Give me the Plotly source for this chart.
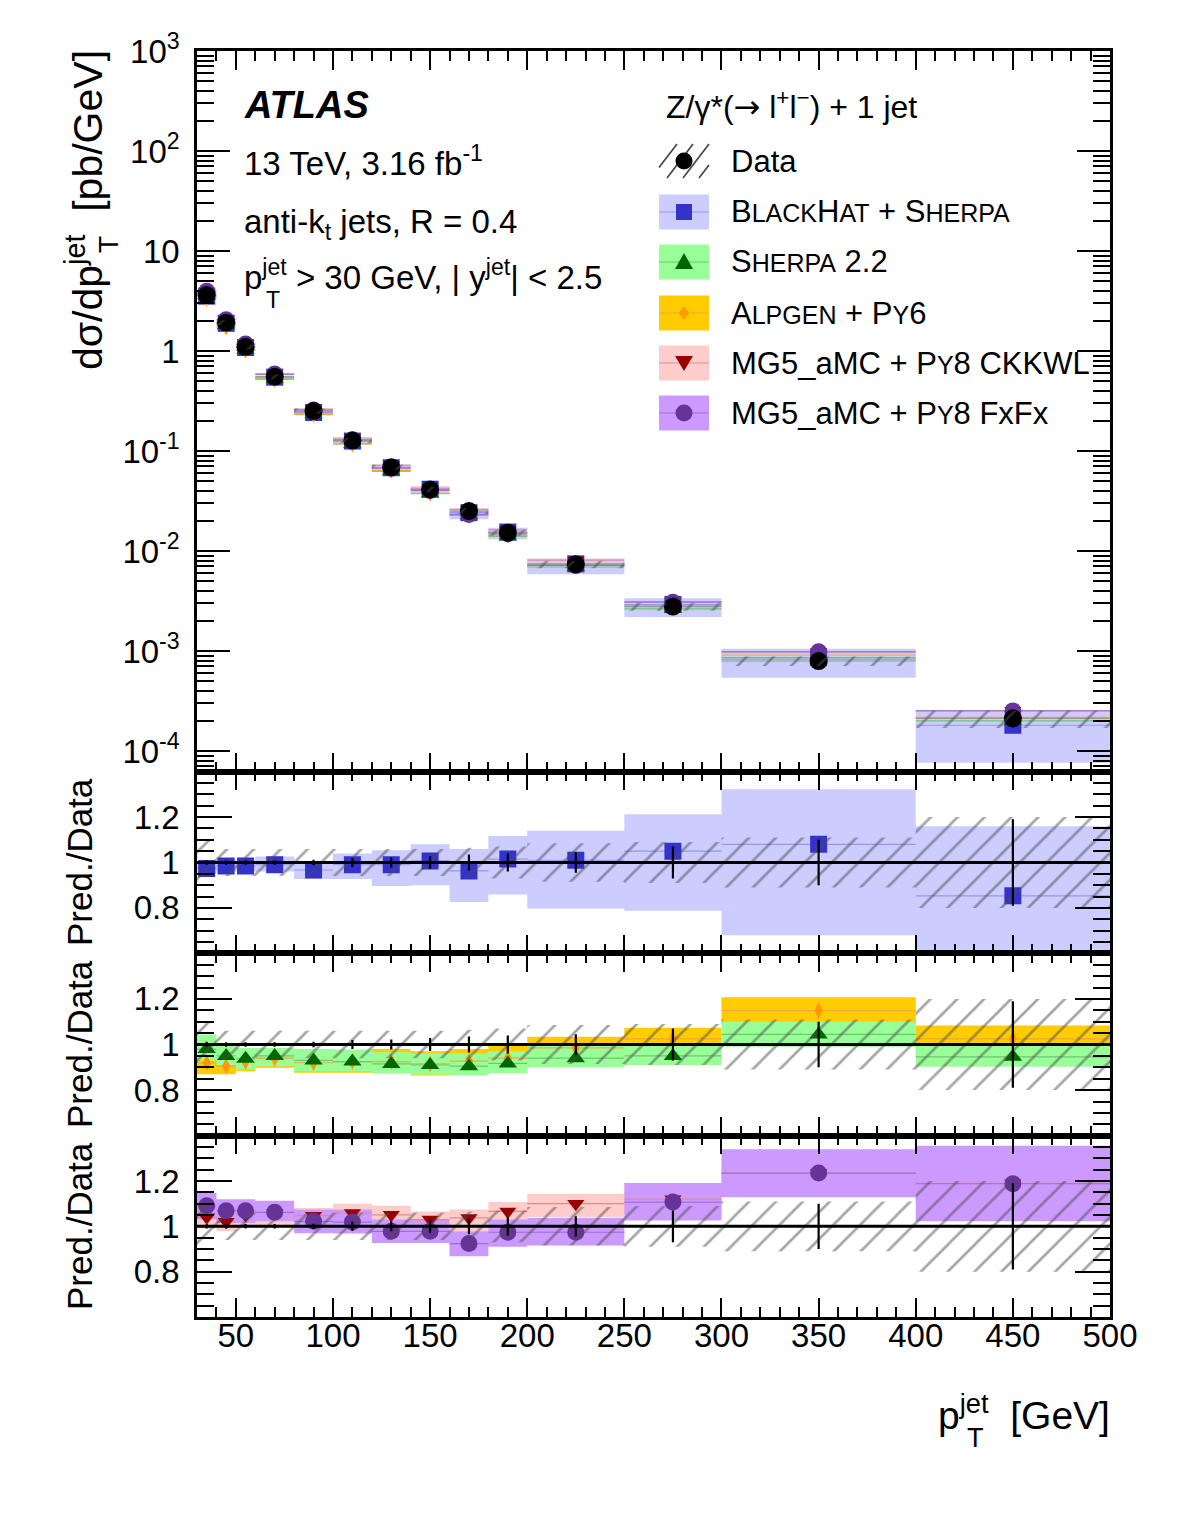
import plotly.graph_objects as go

# ---------------- data ----------------
edges = [30, 40, 50, 60, 80, 100, 120, 140, 160, 180, 200, 250, 300, 400, 500]
centers = [35, 45, 55, 70, 90, 110, 130, 150, 170, 190, 225, 275, 350, 450]

data_xsec = [3.63, 1.92, 1.10, 0.553, 0.251, 0.127, 0.0687, 0.0412, 0.0251,
             0.01525, 0.00736, 0.00278, 0.000794, 0.000212]
data_stat = [0.01, 0.01, 0.01, 0.01, 0.012, 0.02, 0.022, 0.028, 0.035, 0.04,
             0.045, 0.07, 0.10, 0.19]
data_tot = [0.095, 0.06, 0.06, 0.06, 0.06, 0.06, 0.06, 0.06, 0.065, 0.07,
            0.085, 0.09, 0.11, 0.20]

# ratios Pred./Data
bh = [0.974, 0.985, 0.985, 0.99, 0.967, 0.99, 0.99, 1.007, 0.963, 1.015, 1.01, 1.05, 1.08, 0.853]
bh_lo = [0.95, 0.96, 0.96, 0.96, 0.927, 0.927, 0.897, 0.90, 0.826, 0.859, 0.797, 0.787, 0.68, 0.36]
bh_hi = [1.0, 1.01, 1.01, 1.026, 1.007, 1.04, 1.054, 1.08, 1.06, 1.117, 1.14, 1.213, 1.323, 1.16]

sh = [0.98, 0.95, 0.937, 0.95, 0.93, 0.925, 0.915, 0.91, 0.905, 0.917, 0.94, 0.95, 1.044, 0.946]
sh_lo = [0.93, 0.91, 0.89, 0.905, 0.883, 0.883, 0.873, 0.868, 0.864, 0.875, 0.90, 0.91, 0.99, 0.902]
sh_hi = [1.044, 0.993, 0.985, 0.985, 0.98, 0.978, 0.966, 0.96, 0.96, 0.97, 0.993, 1.0, 1.10, 0.993]

al = [0.92, 0.905, 0.925, 0.94, 0.92, 0.925, 0.925, 0.915, 0.927, 0.94, 0.985, 1.025, 1.149, 1.025]
al_lo = [0.87, 0.87, 0.883, 0.898, 0.876, 0.876, 0.875, 0.864, 0.87, 0.88, 0.93, 0.97, 1.09, 0.96]
al_hi = [0.97, 0.95, 0.96, 0.98, 0.97, 0.975, 0.98, 0.97, 0.98, 0.993, 1.034, 1.073, 1.207, 1.083]

ck = [1.04, 1.02, 1.05, 1.06, 1.047, 1.059, 1.051, 1.03, 1.037, 1.066, 1.10, 1.12, 1.235, 1.19]
ck_lo = [0.99, 0.978, 1.0, 1.0, 1.01, 1.02, 1.01, 0.995, 0.978, 1.02, 1.04, 1.05, 1.16, 1.10]
ck_hi = [1.09, 1.06, 1.09, 1.10, 1.081, 1.10, 1.091, 1.066, 1.074, 1.107, 1.144, 1.18, 1.30, 1.30]

fx = [1.091, 1.069, 1.069, 1.062, 1.022, 1.019, 0.978, 0.978, 0.924, 0.974, 0.974, 1.107, 1.235, 1.188]
fx_lo = [1.03, 1.015, 1.015, 1.022, 0.97, 0.968, 0.926, 0.926, 0.868, 0.91, 0.915, 1.026, 1.128, 1.022]
fx_hi = [1.147, 1.12, 1.12, 1.113, 1.074, 1.074, 1.03, 1.03, 0.978, 1.03, 1.037, 1.191, 1.34, 1.356]

main_ticks = [1e-4, 1e-3, 1e-2, 1e-1, 1, 10, 100, 1000]
main_ticktext = ["10<sup>-4</sup>", "10<sup>-3</sup>", "10<sup>-2</sup>", "10<sup>-1</sup>",
                 "1", "10", "10<sup>2</sup>", "10<sup>3</sup>"]

# ---------------- styles ----------------
FONT = "Liberation Sans"
C = {
    "bh": dict(m="rgb(51,51,204)", band="rgb(204,204,255)", line="rgb(150,150,235)", sym="square", size=17),
    "sh": dict(m="rgb(0,102,0)", band="rgb(153,255,153)", line="rgb(110,200,110)", sym="triangle-up", size=16),
    "al": dict(m="rgb(255,153,0)", band="rgb(255,204,0)", line="rgb(235,170,60)", sym="diamond-tall", size=12),
    "ck": dict(m="rgb(153,0,0)", band="rgb(255,204,204)", line="rgb(225,140,140)", sym="triangle-down", size=15),
    "fx": dict(m="rgb(102,51,153)", band="rgb(204,153,255)", line="rgb(160,110,215)", sym="circle", size=17),
}
HATCH = "rgb(75,75,75)"

W, H = 1182, 1515
L, R, T, B = 197, 72, 51, 198
PW, PH = W - L - R, H - T - B


def px(x):
    return (x - L) / PW


def py(y):
    return (H - B - y) / PH


n = len(centers)


def band_xy(lo, hi, scale=None):
    xs, ys = [], []
    for i in range(n):
        s = scale[i] if scale else 1.0
        a, b = edges[i], edges[i + 1]
        l, h = lo[i] * s, hi[i] * s
        xs += [a, b, b, a, a, None]
        ys += [l, l, h, h, l, None]
    return xs, ys


def step_xy(vals, scale=None):
    xs, ys = [], []
    for i in range(n):
        s = scale[i] if scale else 1.0
        xs += [edges[i], edges[i + 1], None]
        ys += [vals[i] * s, vals[i] * s, None]
    return xs, ys


fig = go.Figure()


def add_band(lo, hi, color, xa, ya, scale=None):
    xs, ys = band_xy(lo, hi, scale)
    fig.add_trace(go.Scatter(x=xs, y=ys, fill="toself", fillcolor=color, mode="lines",
                             line=dict(width=0), hoverinfo="skip", showlegend=False,
                             xaxis=xa, yaxis=ya))


def add_line(vals, color, xa, ya, scale=None, width=1.2):
    xs, ys = step_xy(vals, scale)
    fig.add_trace(go.Scatter(x=xs, y=ys, mode="lines", line=dict(color=color, width=width),
                             hoverinfo="skip", showlegend=False, xaxis=xa, yaxis=ya))


def add_markers(vals, key, xa, ya, scale=None):
    st = C[key]
    ys = [v * (scale[i] if scale else 1.0) for i, v in enumerate(vals)]
    fig.add_trace(go.Scatter(x=centers, y=ys, mode="markers",
                             marker=dict(symbol=st["sym"], size=st["size"], color=st["m"],
                                         line=dict(width=0)),
                             showlegend=False, xaxis=xa, yaxis=ya))


def add_hatch(xa, ya, scale=None):
    lo = [1 - e for e in data_tot]
    hi = [1 + e for e in data_tot]
    xs, ys = band_xy(lo, hi, scale)
    fig.add_trace(go.Scatter(x=xs, y=ys, fill="toself", fillcolor="rgba(0,0,0,0)", mode="lines",
                             line=dict(width=0),
                             fillpattern=dict(shape="/", fgcolor=HATCH, bgcolor="rgba(0,0,0,0)",
                                              size=19, solidity=0.14),
                             hoverinfo="skip", showlegend=False, xaxis=xa, yaxis=ya))


def add_data_err(xa, ya):
    fig.add_trace(go.Scatter(x=centers, y=[1.0] * n, mode="markers",
                             marker=dict(size=1, color="rgba(0,0,0,0)"),
                             error_y=dict(type="data", array=data_stat, width=0, thickness=2.2,
                                          color="black"),
                             showlegend=False, xaxis=xa, yaxis=ya))


# ---------------- main panel ----------------
add_band(bh_lo, bh_hi, C["bh"]["band"], "x", "y", scale=data_xsec)
for key, vals in [("bh", bh), ("sh", sh), ("al", al), ("ck", ck), ("fx", fx)]:
    add_line(vals, C[key]["line"], "x", "y", scale=data_xsec)
add_line([1.0] * n, "rgb(150,150,150)", "x", "y", scale=data_xsec)
for key, vals in [("bh", bh), ("sh", sh), ("al", al), ("ck", ck), ("fx", fx)]:
    add_markers(vals, key, "x", "y", scale=data_xsec)
fig.add_trace(go.Scatter(x=centers, y=data_xsec, mode="markers",
                         marker=dict(symbol="circle", size=18, color="black"),
                         error_y=dict(type="data", array=[d * s for d, s in zip(data_xsec, data_stat)],
                                      width=0, thickness=2, color="black"),
                         showlegend=False, xaxis="x", yaxis="y"))
add_hatch("x", "y", scale=data_xsec)

# ---------------- ratio panel 1 ----------------
add_band(bh_lo, bh_hi, C["bh"]["band"], "x2", "y2")
add_line(bh, C["bh"]["line"], "x2", "y2")
add_markers(bh, "bh", "x2", "y2")
add_hatch("x2", "y2")
add_data_err("x2", "y2")

# ---------------- ratio panel 2 ----------------
add_band(al_lo, al_hi, C["al"]["band"], "x3", "y3")
add_band(sh_lo, sh_hi, C["sh"]["band"], "x3", "y3")
add_line(al, C["al"]["line"], "x3", "y3")
add_line(sh, C["sh"]["line"], "x3", "y3")
add_markers(al, "al", "x3", "y3")
add_markers(sh, "sh", "x3", "y3")
add_hatch("x3", "y3")
add_data_err("x3", "y3")

# ---------------- ratio panel 3 ----------------
add_band(ck_lo, ck_hi, C["ck"]["band"], "x4", "y4")
add_band(fx_lo, fx_hi, C["fx"]["band"], "x4", "y4")
add_line(ck, C["ck"]["line"], "x4", "y4")
add_line(fx, C["fx"]["line"], "x4", "y4")
add_markers(ck, "ck", "x4", "y4")
add_markers(fx, "fx", "x4", "y4")
add_hatch("x4", "y4")
add_data_err("x4", "y4")

# ---------------- axes ----------------
d_main = py(771.7)
d_r1 = py(953.3)
d_r2 = py(1135.7)

xcommon = dict(range=[30, 500], showline=True, linecolor="black", linewidth=2.5, mirror="allticks",
               ticks="inside", ticklen=19, tickwidth=2, tickcolor="black",
               tickmode="linear", tick0=0, dtick=50,
               minor=dict(ticks="inside", ticklen=10, tickwidth=2, tickcolor="black",
                          tickmode="linear", tick0=0, dtick=10, showgrid=False),
               showgrid=False, zeroline=False, showticklabels=False)

yratio = dict(range=[0.6, 1.4], showline=True, linecolor="black", linewidth=2.5, mirror="allticks",
              ticks="inside", ticklen=35, tickwidth=2, tickcolor="black",
              tickmode="array", tickvals=[0.8, 1.0, 1.2], ticktext=["0.8", "1", "1.2"],
              minor=dict(ticks="inside", ticklen=17, tickwidth=2, tickcolor="black",
                         tickmode="linear", tick0=0, dtick=0.05, showgrid=False),
              showgrid=False, zeroline=False,
              tickfont=dict(family=FONT, size=33, color="black"), ticklabelstandoff=8)

layout = dict(
    width=W, height=H, margin=dict(l=L, r=R, t=T, b=B),
    paper_bgcolor="white", plot_bgcolor="white", showlegend=False,
    font=dict(family=FONT, color="black"),
    xaxis=dict(xcommon, anchor="y", domain=[0, 1]),
    xaxis2=dict(xcommon, anchor="y2", domain=[0, 1], matches="x"),
    xaxis3=dict(xcommon, anchor="y3", domain=[0, 1], matches="x"),
    xaxis4=dict(xcommon, anchor="y4", domain=[0, 1], matches="x", showticklabels=True,
                tickfont=dict(family=FONT, size=33, color="black"), ticklabelstandoff=-12),
    yaxis=dict(type="log", range=[-4.207, 3.0], domain=[d_main, 1], anchor="x",
               showline=True, linecolor="black", linewidth=2.5, mirror="allticks",
               ticks="inside", ticklen=33, tickwidth=2, tickcolor="black",
               tickmode="array", tickvals=main_ticks, ticktext=main_ticktext,
               minor=dict(ticks="inside", ticklen=17, tickwidth=2, tickcolor="black",
                          dtick="D1", showgrid=False),
               showgrid=False, zeroline=False,
               tickfont=dict(family=FONT, size=33, color="black"), ticklabelstandoff=8),
    yaxis2=dict(yratio, domain=[d_r1, d_main], anchor="x2"),
    yaxis3=dict(yratio, domain=[d_r2, d_r1], anchor="x3"),
    yaxis4=dict(yratio, domain=[0, d_r2], anchor="x4"),
)
fig.update_layout(**layout)

shapes = []
for ya in ["y2", "y3", "y4"]:
    xa = "x" + ya[1:]
    shapes.append(dict(type="line", xref=xa + " domain", yref=ya, x0=0, x1=1, y0=1, y1=1,
                       line=dict(color="black", width=3), layer="above"))

annotations = []


def ann(text, x, y, size, xanchor="left", yanchor="middle", angle=0):
    annotations.append(dict(text=text, x=px(x), y=py(y), xref="paper", yref="paper",
                            showarrow=False, xanchor=xanchor, yanchor=yanchor, textangle=angle,
                            font=dict(family=FONT, size=size, color="black")))


# ATLAS labels
ann("<b><i>ATLAS</i></b>", 242, 105, 38)
ann("13 TeV, 3.16 fb<sup>-1</sup>", 242, 161, 33)
ann("anti-k<sub>t</sub> jets, R = 0.4", 242, 224, 33)
ann("p<sup>jet</sup> > 30 GeV, | y<sup>jet</sup>| < 2.5", 242, 275, 33)
ann("T", 273, 300, 23, xanchor="center")

# axis titles
ann("dσ/dp<sup>jet</sup>  [pb/GeV]", 85, 48, 41, xanchor="center", yanchor="top", angle=-90)
ann("T", 109, 245, 28, xanchor="center", angle=-90)
for yc in [862, 1044, 1226]:
    ann("Pred./Data", 79, yc, 35, xanchor="center", yanchor="middle", angle=-90)
ann("p<sup>jet</sup>  [GeV]", 1112, 1412, 39, xanchor="right")
ann("T", 975, 1438, 27, xanchor="center")

# legend
ann("Z/γ*(<span style='font-family:DejaVu Sans'>→</span> l<sup>+</sup>l<sup>−</sup>) + 1 jet", 664, 105, 32)
rows = [161, 212, 262, 313, 363, 413]
sc = 25
labels = [
    "Data",
    "B<span style='font-size:%dpx'>LACK</span>H<span style='font-size:%dpx'>AT</span> + S<span style='font-size:%dpx'>HERPA</span>" % (sc, sc, sc),
    "S<span style='font-size:%dpx'>HERPA</span> 2.2" % sc,
    "A<span style='font-size:%dpx'>LPGEN</span> + P<span style='font-size:%dpx'>Y</span>6" % (sc, sc),
    "MG5_aMC + P<span style='font-size:%dpx'>Y</span>8 CKKWL" % sc,
    "MG5_aMC + P<span style='font-size:%dpx'>Y</span>8 FxFx" % sc,
]
for r, lab in zip(rows, labels):
    ann(lab, 729, r, 31)

sx0, sx1, mx = 659, 709, 684
keys = ["bh", "sh", "al", "ck", "fx"]
for r, key in zip(rows[1:], keys):
    shapes.append(dict(type="rect", xref="paper", yref="paper", x0=px(sx0), x1=px(sx1),
                       y0=py(r + 17.5), y1=py(r - 17.5), fillcolor=C[key]["band"],
                       line=dict(width=0), layer="above"))
    shapes.append(dict(type="line", xref="paper", yref="paper", x0=px(sx0), x1=px(sx1),
                       y0=py(r), y1=py(r), line=dict(color=C[key]["line"], width=1.2), layer="above"))

glyph = dict(xref="paper", yref="paper", xsizemode="pixel", ysizemode="pixel", layer="above",
             line=dict(width=0))
shapes.append(dict(glyph, type="rect", xanchor=px(mx), yanchor=py(rows[1]), x0=-8, x1=8, y0=-8, y1=8,
                   fillcolor=C["bh"]["m"]))
shapes.append(dict(glyph, type="path", xanchor=px(mx), yanchor=py(rows[2]),
                   path="M-9,-7 L9,-7 L0,9 Z", fillcolor=C["sh"]["m"]))
shapes.append(dict(glyph, type="path", xanchor=px(mx), yanchor=py(rows[3]),
                   path="M0,-7 L5,0 L0,7 L-5,0 Z", fillcolor=C["al"]["m"]))
shapes.append(dict(glyph, type="path", xanchor=px(mx), yanchor=py(rows[4]),
                   path="M-9,7 L9,7 L0,-8 Z", fillcolor=C["ck"]["m"]))
shapes.append(dict(glyph, type="circle", xanchor=px(mx), yanchor=py(rows[5]), x0=-8.5, x1=8.5,
                   y0=-8.5, y1=8.5, fillcolor=C["fx"]["m"]))
r0 = rows[0]
for k in range(4):
    xa0 = sx0 - 8 + k * 16
    xs0, ys0, xs1, ys1 = xa0, r0 + 17, xa0 + 26, r0 - 17
    if xs0 < sx0:
        ys0 -= (sx0 - xs0) * 34 / 26
        xs0 = sx0
    if xs1 > sx1:
        ys1 += (xs1 - sx1) * 34 / 26
        xs1 = sx1
    shapes.append(dict(type="line", xref="paper", yref="paper", x0=px(xs0), y0=py(ys0),
                       x1=px(xs1), y1=py(ys1), line=dict(color=HATCH, width=1.8), layer="above"))
shapes.append(dict(glyph, type="circle", xanchor=px(mx), yanchor=py(r0), x0=-8.5, x1=8.5,
                   y0=-8.5, y1=8.5, fillcolor="black"))

fig.update_layout(shapes=shapes, annotations=annotations)
fig.write_html("out.html")
